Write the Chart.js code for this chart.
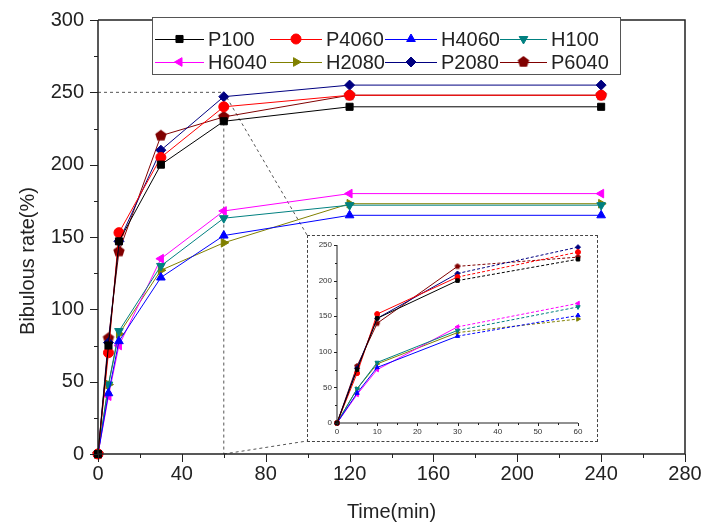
<!DOCTYPE html>
<html>
<head>
<meta charset="utf-8">
<script src="https://cdn.jsdelivr.net/npm/chart.js@4/dist/chart.umd.min.js"></script>
<style>
html, body { margin: 0; padding: 0; background: #fff; }
#wrap { position: relative; width: 704px; height: 527px; }
#main { position: absolute; left: 0; top: 0; }
#inset { position: absolute; left: 307px; top: 235px; width: 289px; height: 205px; border: 1px dashed #444; background: #fff; }
#insetCanvas { position: absolute; left: 0; top: 0; }
</style>
</head>
<body>
<div id="wrap">
  <canvas id="main" width="704" height="527"></canvas>
  <div id="inset"><canvas id="insetCanvas" width="289" height="205"></canvas></div>
</div>
<script>
// swelling curves, time in minutes
var times = [0, 5, 10, 30, 60, 120, 240];
var seriesNames = ['P100', 'P4060', 'H4060', 'H100', 'H6040', 'H2080', 'P2080', 'P6040'];
var P100  = [0, 75, 147, 200, 230, 240, 240];
var P4060 = [0, 70, 153, 205, 240, 248, 248];
var H4060 = [0, 42, 78, 122, 151, 165, 165];
var H100  = [0, 48, 85, 130, 163, 172, 172];
var H6040 = [0, 40, 75, 135, 168, 180, 180];
var H2080 = [0, 48, 83, 127, 146, 173, 173];
var P2080 = [0, 77, 147, 210, 247, 255, 255];
var P6040 = [0, 80, 140, 220, 233, 248, 248];
var xTicks = [0, 40, 80, 120, 160, 200, 240, 280];
var yTicks = [0, 50, 100, 150, 200, 250, 300];
var insetXTicks = [0, 10, 20, 30, 40, 50, 60];
var insetYTicks = [0, 50, 100, 150, 200, 250];

var seriesValues = [P100, P4060, H4060, H100, H6040, H2080, P2080, P6040];
var colors = ['#000000', '#ff0000', '#0000ff', '#008080', '#ff00ff', '#808000', '#000080', '#800000'];

// pentagon marker (not built in)
function pentagon(r, col) {
  var c = document.createElement('canvas');
  c.width = c.height = r * 2 + 2;
  var g = c.getContext('2d');
  g.fillStyle = col;
  g.beginPath();
  for (var i = 0; i < 5; i++) {
    var a = -Math.PI / 2 + i * 2 * Math.PI / 5;
    g.lineTo(r + 1 + r * Math.cos(a), r + 1 + r * Math.sin(a));
  }
  g.closePath();
  g.fill();
  return c;
}
var styles = ['rect', 'circle', 'triangle', 'triangle', 'triangle', 'triangle', 'rectRot', pentagon(6, '#800000')];
var rots = [0, 0, 0, 180, 270, 90, 0, 0];
var smallStyles = styles.slice(0, 7).concat([pentagon(3, '#800000')]);

function pts(vals, n) {
  var out = [];
  for (var i = 0; i < n; i++) out.push({ x: times[i], y: vals[i] });
  return out;
}

function axesPlugin(cfg) {
  return {
    id: 'axesTicks',
    afterDraw: function (chart) {
      var ctx = chart.ctx, a = chart.chartArea;
      var xs = chart.scales.x, ys = chart.scales.y;
      ctx.save();
      ctx.strokeStyle = '#222';
      ctx.lineWidth = cfg.lw;
      ctx.beginPath();
      ctx.moveTo(a.left, a.top); ctx.lineTo(a.left, a.bottom); ctx.lineTo(a.right, a.bottom);
      if (cfg.frame) { ctx.moveTo(a.left, a.top); ctx.lineTo(a.right, a.top); ctx.lineTo(a.right, a.bottom); }
      ctx.stroke();
      ctx.lineWidth = 1;
      ctx.beginPath();
      var v, p, len;
      for (v = xs.min; v <= xs.max; v += cfg.xMinor) {
        p = Math.round(xs.getPixelForValue(v)) + 0.5;
        len = (v % cfg.xMajor === 0) ? cfg.major : cfg.minor;
        ctx.moveTo(p, a.bottom); ctx.lineTo(p, a.bottom + len);
      }
      for (v = ys.min; v <= ys.max; v += cfg.yMinor) {
        p = Math.round(ys.getPixelForValue(v)) + 0.5;
        len = (v % cfg.yMajor === 0) ? cfg.major : cfg.minor;
        ctx.moveTo(a.left, p); ctx.lineTo(a.left - len, p);
      }
      ctx.stroke();
      ctx.restore();
    }
  };
}

// dashed zoom guides + y title + legend box
var extrasPlugin = {
  id: 'extras',
  beforeDatasetsDraw: function (chart) {
    var ctx = chart.ctx, xs = chart.scales.x, ys = chart.scales.y;
    var x0 = xs.getPixelForValue(0), x60 = xs.getPixelForValue(60);
    var y250 = ys.getPixelForValue(250), y0 = ys.getPixelForValue(0);
    ctx.save();
    ctx.strokeStyle = '#555';
    ctx.lineWidth = 1;
    ctx.setLineDash([3, 3]);
    ctx.beginPath();
    ctx.moveTo(x0, y250); ctx.lineTo(x60, y250); ctx.lineTo(x60, y0);
    ctx.moveTo(x60, y250); ctx.lineTo(307, 235);
    ctx.moveTo(x60, y0); ctx.lineTo(307, 441);
    ctx.stroke();
    ctx.restore();
  },
  afterDraw: function (chart) {
    var ctx = chart.ctx;
    ctx.save();
    ctx.fillStyle = '#222';
    ctx.font = '20px "Liberation Sans", Arial, sans-serif';
    ctx.translate(28, 261);
    ctx.rotate(-Math.PI / 2);
    ctx.textAlign = 'center';
    ctx.textBaseline = 'middle';
    ctx.fillText('Bibulous rate(%)', 0, 0);
    ctx.restore();

    // legend
    ctx.save();
    ctx.fillStyle = '#fff';
    ctx.fillRect(152, 17, 468, 57);
    ctx.strokeStyle = '#555';
    ctx.lineWidth = 1;
    ctx.strokeRect(152.5, 17.5, 468, 57);
    var colStart = [155, 270, 385, 500];
    var textX = [208, 326, 441, 551];
    var rowY = [39, 62];
    ctx.font = '20px "Liberation Sans", Arial, sans-serif';
    ctx.textBaseline = 'middle';
    for (var i = 0; i < seriesNames.length; i++) {
      var r = Math.floor(i / 4), c = i % 4;
      var y = rowY[r], s = colStart[c], e = textX[c] - 4;
      ctx.strokeStyle = colors[i];
      ctx.beginPath();
      ctx.moveTo(s, y + 0.5); ctx.lineTo(e, y + 0.5);
      ctx.stroke();
      ctx.fillStyle = colors[i];
      Chart.helpers.drawPoint(ctx, { pointStyle: styles[i], rotation: rots[i], radius: 5, borderWidth: 1 }, (s + e) / 2, y);
      ctx.fillStyle = '#222';
      ctx.fillText(seriesNames[i], textX[c], y + 1);
    }
    ctx.restore();
  }
};

var mainSets = seriesNames.map(function (n, i) {
  return {
    label: n,
    data: pts(seriesValues[i], times.length),
    borderColor: colors[i],
    backgroundColor: colors[i],
    borderWidth: 1,
    pointStyle: styles[i],
    rotation: rots[i],
    pointRadius: 5,
    pointBorderWidth: 1,
    clip: false
  };
});

new Chart(document.getElementById('main'), {
  type: 'line',
  data: { datasets: mainSets },
  options: {
    responsive: false,
    animation: false,
    layout: { padding: { top: 20, right: 19, left: 0, bottom: 0 } },
    plugins: { legend: { display: false }, tooltip: { enabled: false } },
    scales: {
      x: {
        type: 'linear', min: xTicks[0], max: xTicks[xTicks.length - 1],
        afterBuildTicks: function (s) { s.ticks = xTicks.map(function (v) { return { value: v }; }); },
        afterFit: function (s) { s.height = 73; s.paddingLeft = 0; s.paddingRight = 0; },
        grid: { drawOnChartArea: false, drawTicks: true, tickLength: 8, color: 'rgba(0,0,0,0)' },
        border: { display: false },
        ticks: { color: '#222', padding: 0, maxRotation: 0, font: { size: 20, family: '"Liberation Sans", Arial, sans-serif' } },
        title: { display: true, text: 'Time(min)', color: '#222', padding: { top: 0, bottom: 3 }, font: { size: 20, family: '"Liberation Sans", Arial, sans-serif' } }
      },
      y: {
        min: yTicks[0], max: yTicks[yTicks.length - 1],
        afterBuildTicks: function (s) { s.ticks = yTicks.map(function (v) { return { value: v }; }); },
        afterFit: function (s) { s.width = 98; s.paddingTop = 0; s.paddingBottom = 0; },
        grid: { drawOnChartArea: false, drawTicks: true, tickLength: 9, color: 'rgba(0,0,0,0)' },
        border: { display: false },
        ticks: { color: '#222', padding: 5, font: { size: 20, family: '"Liberation Sans", Arial, sans-serif' } }
      }
    }
  },
  plugins: [axesPlugin({ lw: 1.5, frame: true, xMinor: 20, xMajor: 40, yMinor: 25, yMajor: 50, major: 8, minor: 4 }), extrasPlugin]
});

var insetSets = seriesNames.map(function (n, i) {
  return {
    label: n,
    data: pts(seriesValues[i], 5),
    borderColor: colors[i],
    backgroundColor: colors[i],
    borderWidth: 1,
    pointStyle: smallStyles[i],
    rotation: rots[i],
    pointRadius: 2.5,
    pointBorderWidth: 1,
    clip: false,
    segment: { borderDash: function (c) { return c.p0.parsed.x >= 30 ? [3, 2] : undefined; } }
  };
});

new Chart(document.getElementById('insetCanvas'), {
  type: 'line',
  data: { datasets: insetSets },
  options: {
    responsive: false,
    animation: false,
    layout: { padding: { top: 9, right: 19, left: 0, bottom: 0 } },
    plugins: { legend: { display: false }, tooltip: { enabled: false } },
    scales: {
      x: {
        type: 'linear', min: 0, max: 60,
        afterBuildTicks: function (s) { s.ticks = insetXTicks.map(function (v) { return { value: v }; }); },
        afterFit: function (s) { s.height = 18; s.paddingLeft = 0; s.paddingRight = 0; },
        grid: { drawOnChartArea: false, drawTicks: true, tickLength: 3, color: 'rgba(0,0,0,0)' },
        border: { display: false },
        ticks: { color: '#333', padding: 1, maxRotation: 0, font: { size: 8, family: '"Liberation Sans", Arial, sans-serif' } }
      },
      y: {
        min: 0, max: 250,
        afterBuildTicks: function (s) { s.ticks = insetYTicks.map(function (v) { return { value: v }; }); },
        afterFit: function (s) { s.width = 29; s.paddingTop = 0; s.paddingBottom = 0; },
        grid: { drawOnChartArea: false, drawTicks: true, tickLength: 3, color: 'rgba(0,0,0,0)' },
        border: { display: false },
        ticks: { color: '#333', padding: 2, font: { size: 8, family: '"Liberation Sans", Arial, sans-serif' } }
      }
    }
  },
  plugins: [axesPlugin({ lw: 1, frame: false, xMinor: 5, xMajor: 10, yMinor: 25, yMajor: 50, major: 3, minor: 2 })]
});
</script>
</body>
</html>
